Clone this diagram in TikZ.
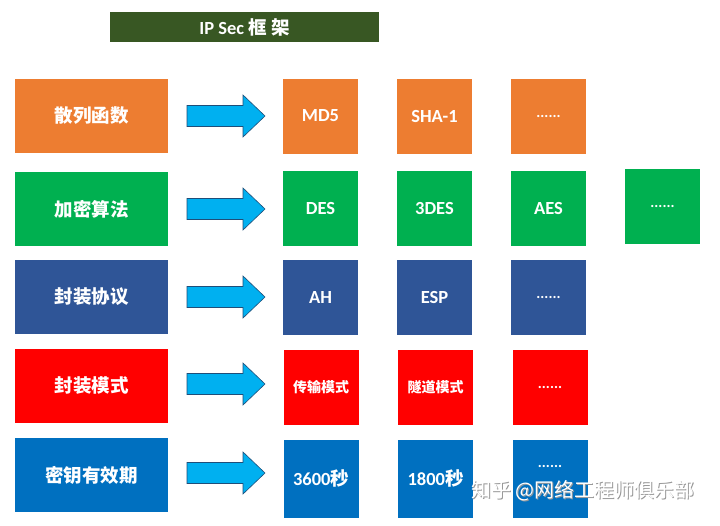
\documentclass[tikz,border=0pt]{standalone}
\usepackage{fontspec}
\setmainfont{Carlito}
\newfontfamily\cjk{Noto Sans CJK SC}
\definecolor{cOrange}{HTML}{ED7D31}
\definecolor{cGreen}{HTML}{00B050}
\definecolor{cNavy}{HTML}{2F5597}
\definecolor{cRed}{HTML}{FF0000}
\definecolor{cBlue}{HTML}{0070C0}
\definecolor{cArrow}{HTML}{00B0F0}
\definecolor{cArrowLine}{HTML}{1F4E79}
\definecolor{cTitle}{HTML}{385723}
\begin{document}
\begin{tikzpicture}[x=1pt,y=-1pt,
  bigbox/.style={minimum width=153, minimum height=74, inner sep=0, text=white,
     font=\fontsize{18.5}{20}\selectfont\bfseries},
  smallbox/.style={minimum width=75, minimum height=75, inner sep=0, text=white,
     font=\fontsize{18.5}{20}\selectfont\bfseries},
  smalltext/.style={font=\fontsize{14}{16}\selectfont\bfseries},
  dots/.style={font=\fontsize{15}{16}\selectfont\bfseries},
  barrow/.pic={\draw[fill=cArrow, draw=cArrowLine, line width=0.6pt, line join=miter]
     (0,-10.5) -- (56,-10.5) -- (56,-21) -- (78,0) -- (56,21) -- (56,10.5) -- (0,10.5) -- cycle;}
]
\useasboundingbox (0,0) rectangle (720,525);
\fill[white] (0,0) rectangle (720,525);

% title
\node[fill=cTitle, minimum width=269, minimum height=30, inner sep=0, text=white,
  font=\fontsize{18.5}{20}\selectfont\bfseries] (title) at (244.5,27) {IP Sec \cjk{框 架}};

% row 1
\node[bigbox, fill=cOrange] (r1) at (91.5,116) {\cjk 散列函数};
\pic (a1) at (187,116) {barrow};
\node[smallbox, fill=cOrange] (r1a) at (320.5,116) {MD5};
\node[smallbox, fill=cOrange] (r1b) at (434.5,116) {SHA-1};
\node[smallbox, fill=cOrange, dots] (r1c) at (548.5,116) {......};

% row 2
\node[bigbox, fill=cGreen] (r2) at (91.5,209) {\cjk 加密算法};
\pic (a2) at (187,209) {barrow};
\node[smallbox, fill=cGreen] (r2a) at (320.5,208.5) {DES};
\node[smallbox, fill=cGreen] (r2b) at (434.5,208.5) {3DES};
\node[smallbox, fill=cGreen] (r2c) at (548.5,208.5) {AES};
\node[smallbox, fill=cGreen, dots] (r2d) at (662.5,206.5) {......};

% row 3
\node[bigbox, fill=cNavy] (r3) at (91.5,297) {\cjk 封装协议};
\pic (a3) at (187,297) {barrow};
\node[smallbox, fill=cNavy] (r3a) at (320.5,297) {AH};
\node[smallbox, fill=cNavy] (r3b) at (434.5,297) {ESP};
\node[smallbox, fill=cNavy, dots] (r3c) at (548.5,297) {......};

% row 4
\node[bigbox, fill=cRed] (r4) at (91.5,385.5) {\cjk 封装模式};
\pic (a4) at (187,384) {barrow};
\node[smallbox, fill=cRed, smalltext] (r4a) at (321,387.5) {\cjk 传输模式};
\node[smallbox, fill=cRed, smalltext] (r4b) at (435.5,387.5) {\cjk 隧道模式};
\node[smallbox, fill=cRed, dots] (r4c) at (550,387.5) {......};

% row 5
\node[bigbox, fill=cBlue] (r5) at (91.5,475) {\cjk 密钥有效期};
\pic (a5) at (187,473) {barrow};
\node[smallbox, fill=cBlue, minimum height=78] (r5a) at (321,478.5) {3600\cjk{秒}};
\node[smallbox, fill=cBlue, minimum height=78] (r5b) at (435.5,478.5) {1800\cjk{秒}};
\node[smallbox, fill=cBlue, minimum height=78] (r5c) at (550,478.5) {};
\node[dots, text=white, inner sep=0] (r5d) at (550,466) {......};

% watermark
\node[text=black!40, font=\cjk\fontsize{20}{22}\selectfont, inner sep=0] (wms) at (583.7,491.7) {知乎 @网络工程师俱乐部};
\node[text=white, font=\cjk\fontsize{20}{22}\selectfont, inner sep=0] (wm) at (583,491) {知乎 @网络工程师俱乐部};
\end{tikzpicture}
\end{document}
